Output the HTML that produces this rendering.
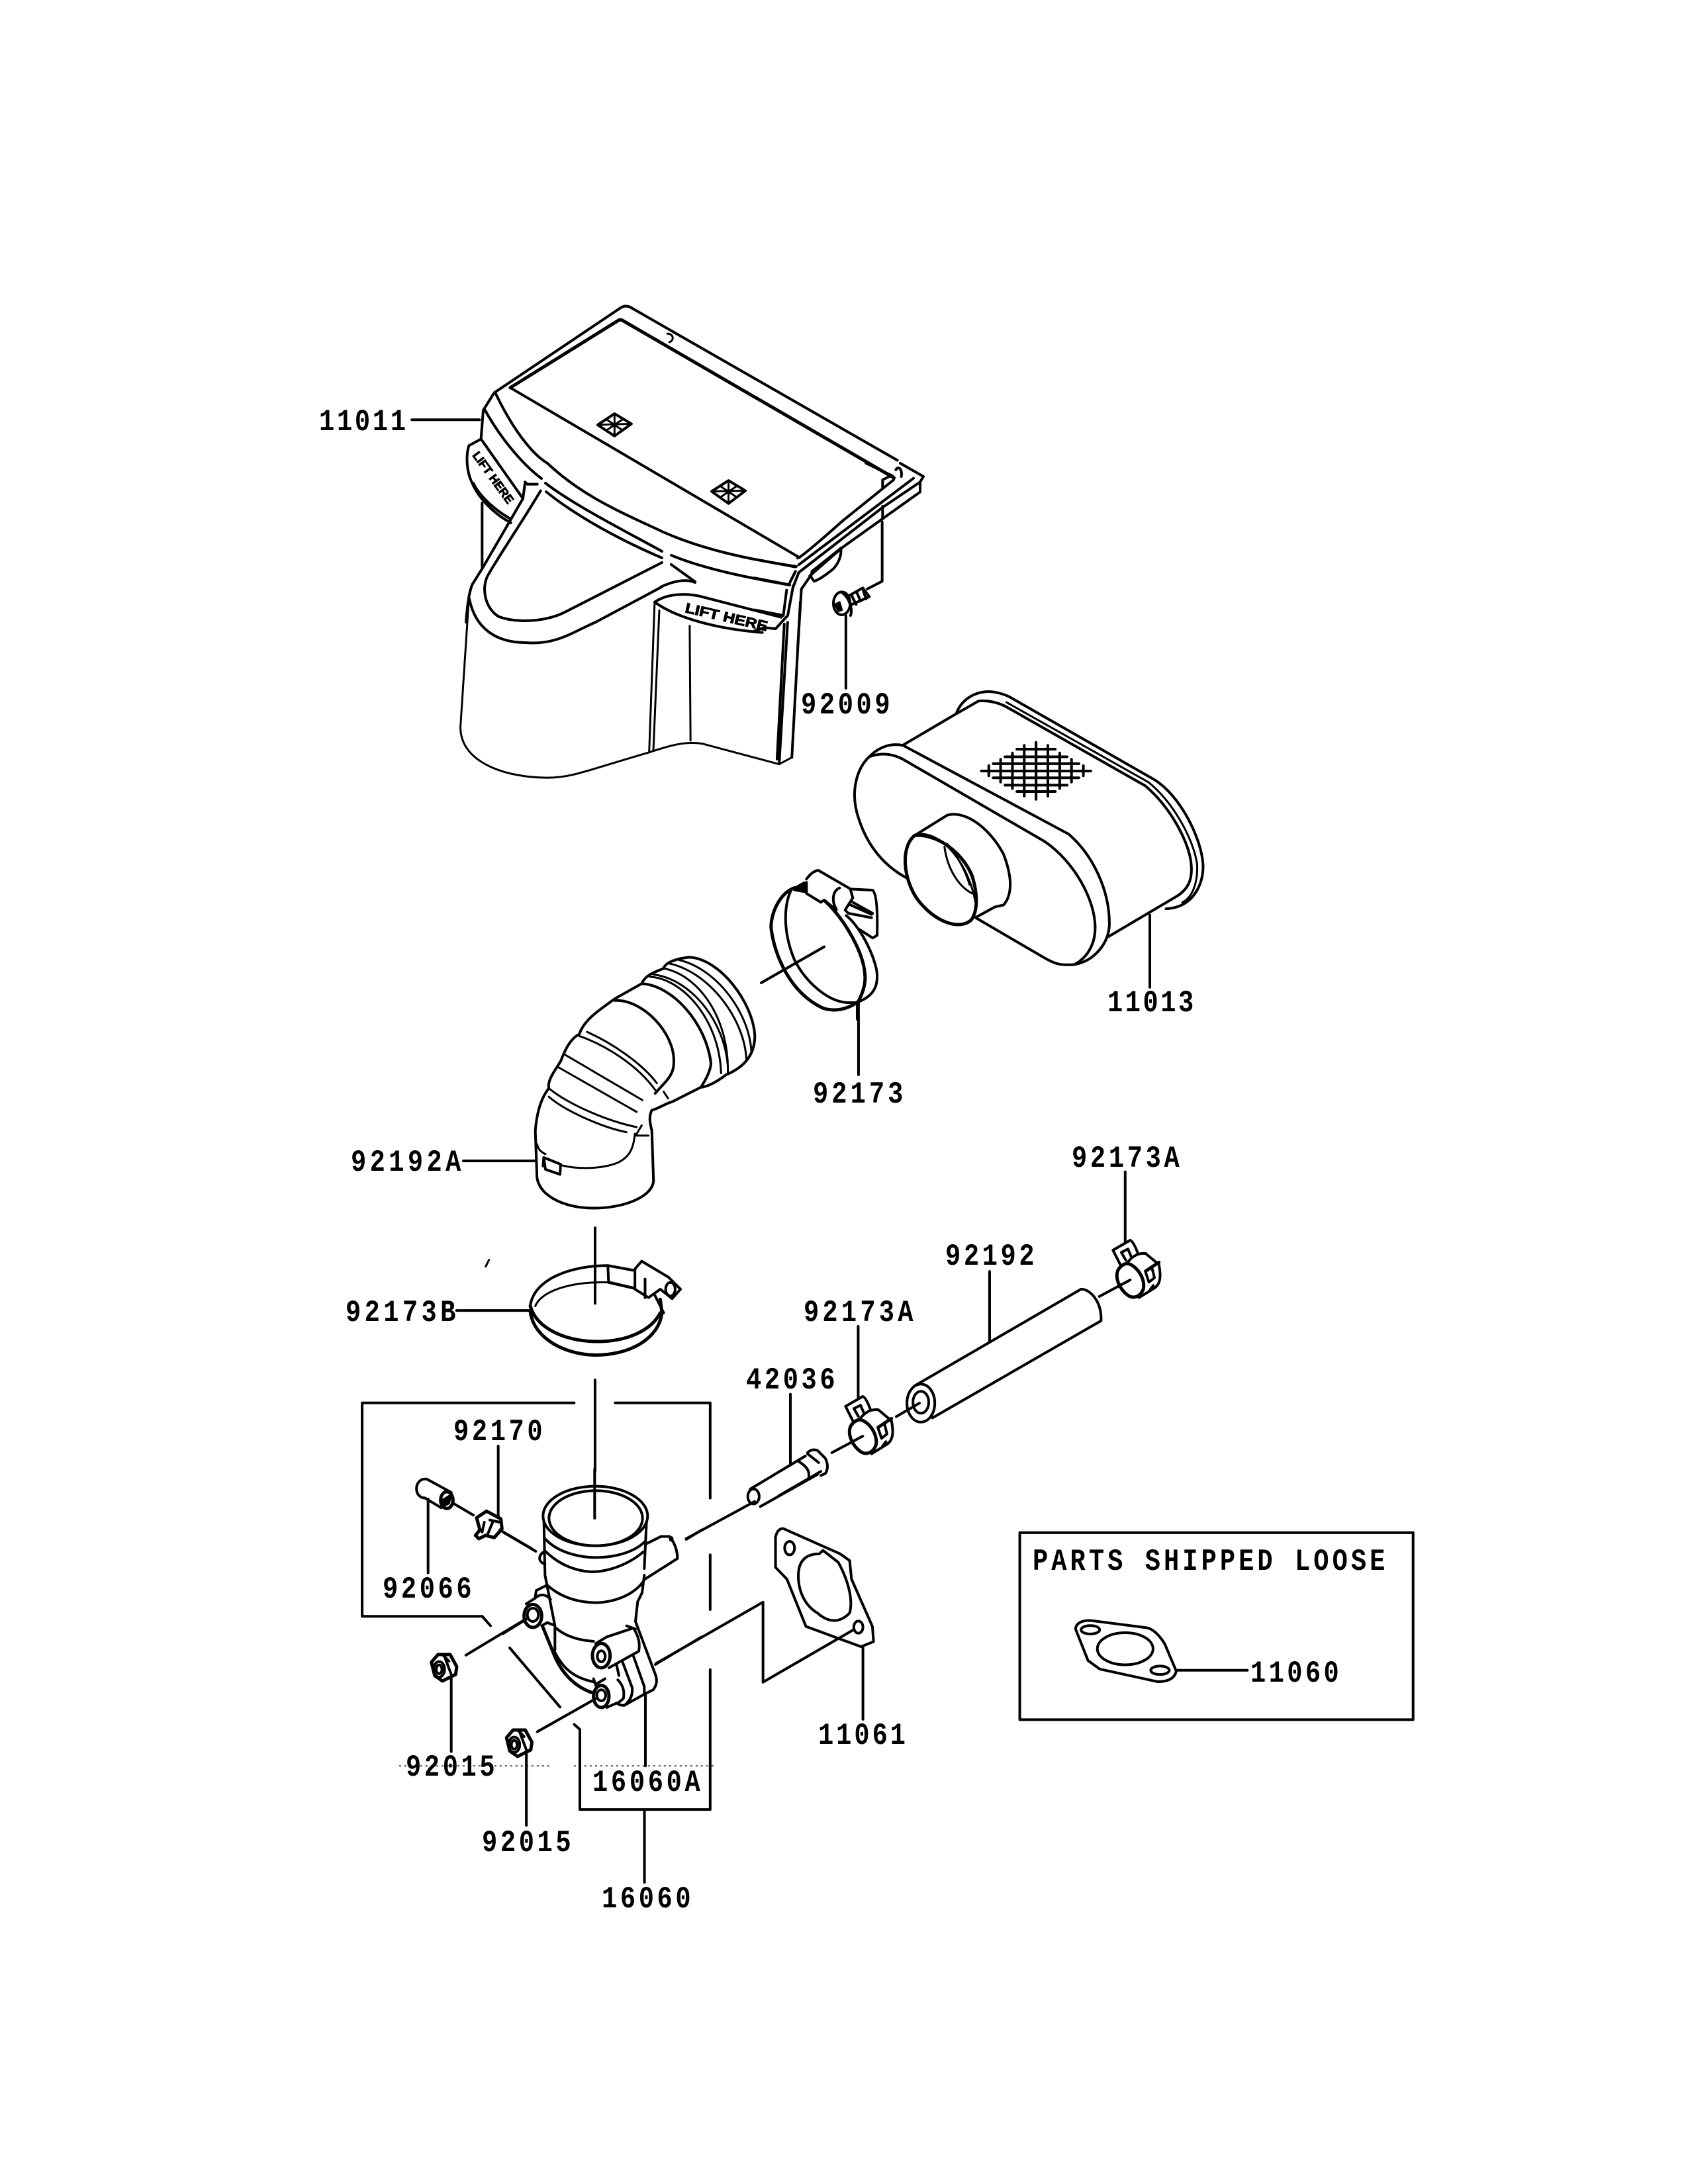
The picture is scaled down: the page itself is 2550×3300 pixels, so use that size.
<!DOCTYPE html>
<html><head><meta charset="utf-8"><style>
html,body{margin:0;padding:0;background:#fff;width:2550px;height:3300px;overflow:hidden}
svg{display:block}
svg *{vector-effect:non-scaling-stroke}
g.p path,g.p ellipse,g.p line,g.p polygon,g.p rect{fill:none;stroke:#000;stroke-width:3;stroke-linejoin:round;stroke-linecap:round}
g.p .w{fill:#fff}
g.p .b{fill:#000}
g.p .t{stroke-width:5}
g.p .m{stroke-width:4}
text.l{font-family:"Liberation Mono",monospace;font-weight:bold;font-size:44px;fill:#000}
text.s{font-family:"Liberation Sans",sans-serif;font-weight:bold;fill:#000;stroke:#000;stroke-width:1px}
</style></head><body>
<svg xmlns="http://www.w3.org/2000/svg" width="2550" height="3300" viewBox="0 0 2550 3300">
<rect width="2550" height="3300" fill="#fff"/>

<!-- Housing upper and body -->
<g class="p" transform="translate(450,420) scale(.6378,.5102)">
<path class="m" d="M440,390L465,340L765,88Q778,78 792,90L1420,540"/>
<path class="t" d="M503,325L760,125Q766,122 772,128L1412,592"/>
<path class="m" d="M503,325L1188,828"/>
<path d="M405,950L385,1330C385,1440 500,1480 590,1480C650,1480 680,1460 832,1405C880,1385 920,1370 960,1380L1140,1440L1170,1420"/>
<path class="m" d="M1100,1050C1000,1040 900,1010 845,960C880,930 930,935 960,945L1145,1005"/>
<path class="m" d="M1190,960L1170,1420M1160,1020L1140,1438M1152,1025L1135,1425"/>
<path d="M845,960L832,1405M856,985L842,1398M928,1030L930,1370"/>
<polygon class="m" points="710,435 750,402 790,432 750,468"/><path d="M730,418L770,452M770,418L730,452M750,402L750,468M710,435L790,432"/>
<polygon class="m" points="980,632 1020,600 1060,630 1020,668"/><path d="M1000,616L1040,650M1040,616L1000,650M1020,600L1020,668M980,632L1060,630"/>
<path d="M875,165C890,165 892,185 880,190"/>
<path class="m" d="M270,420L430,420"/>
<path class="m" d="M1298,1000L1298,1215"/>
</g>

<!-- arcs in real coords -->
<g class="p">
<path class="m" d="M748,593C780,660 810,690 827,700C880,750 940,775 1000,803C1060,830 1130,845 1203,856"/>
<path class="m" d="M733,620C753,657 787,700 818,723M824,730C867,763 940,800 1000,833M1014,839C1062,859 1125,872 1193,884"/>
<path class="m" d="M825,743C867,777 930,813 1000,843"/>
<path class="m" d="M1014,853L1050,879M998,887Q1030,872 1050,880"/>
<path class="m" d="M709,905C718,950 750,971 794,971C840,975 865,955 900,940"/>
</g>

<!-- Housing left detail -->
<g class="p" transform="translate(680,620) scale(.3333)">
<path class="m" d="M150,0L140,130L85,160C70,210 75,280 100,330C130,400 200,470 275,510"/>
<path class="m" d="M140,130L330,400M105,330C130,385 200,450 270,490"/>
<path class="m" d="M145,420V710"/>
<path class="m" d="M330,400L340,325L350,335M355,335H395"/>
<path class="m" d="M330,400L150,710L100,790C85,830 78,880 72,960"/>
<path class="m" d="M410,365C330,500 240,630 170,750C140,810 160,900 220,935C300,965 430,960 520,915L960,690"/>
<path class="m" d="M960,800L660,960"/>
</g>

<!-- Housing right detail + screw -->
<g class="p" transform="translate(1140,700) scale(.3333)">
<path class="m" d="M195,430Q215,425 400,260L630,75Q635,60 610,50L505,0"/>
<path class="m" d="M580,110L580,75L610,60M640,30C650,10 670,25 665,60"/>
<path class="m" d="M200,460L720,68"/>
<path class="m" d="M0,435L185,470M0,520L155,550L185,490"/>
<path class="m" d="M175,560L200,495L580,200L750,85L765,60L660,0"/>
<path class="m" d="M250,510L400,380L750,130V90"/>
<path class="m" d="M580,195V245M578,265V535L510,570"/>
<path class="m" d="M260,490L255,515L270,535Q300,525 355,480C385,450 395,410 390,385M260,490L385,390"/>
<path class="m" d="M250,515L212,570L195,840M175,555L150,690L95,750L45,745L0,760"/>
<path class="m" d="M145,575L130,690L0,665"/>
<ellipse class="m" cx="395" cy="635" rx="38" ry="52"/>
<path class="m" d="M395,585C430,610 445,660 435,690M420,605L490,565L520,605L440,640M440,600L460,640M465,590L480,625M490,570L505,615"/>
<path class="b" d="M365,640L385,630L395,665L380,670Z"/>
</g>
<text class="s" font-size="18" transform="translate(713,688) rotate(54)" textLength="92" lengthAdjust="spacingAndGlyphs">LIFT HERE</text>
<text class="s" font-size="21" transform="translate(1034,925) rotate(13)" textLength="127" lengthAdjust="spacingAndGlyphs">LIFT HERE</text>

<!-- Filter 11013 -->
<g class="p" transform="translate(1150,1000) scale(.4464,.3827)">
<path class="m" d="M478,330L660,205C670,170 700,125 760,118C790,115 830,130 850,145L1330,465C1420,530 1490,700 1495,800C1498,880 1460,970 1370,975"/>
<path class="m" d="M660,205L735,155Q780,150 825,175L1300,490C1390,580 1450,720 1455,800C1460,860 1445,900 1400,930L1175,1085"/>
<path d="M830,160L1310,475C1400,560 1465,710 1475,800C1478,870 1460,930 1425,950"/>
<path class="m" d="M370,370C400,335 440,320 480,330L1040,680C1120,760 1180,900 1178,1040C1175,1110 1130,1180 1060,1195C1010,1200 990,1190 960,1170L725,1010"/>
<path class="m" d="M365,375C400,360 440,360 480,385L960,710C1060,790 1130,940 1130,1050C1130,1120 1100,1170 1060,1195"/>
<path class="m" d="M370,370C320,420 300,520 330,620C360,730 420,810 495,855"/>
<path class="t" d="M520,685C470,730 480,860 530,940C590,1030 670,1060 710,1020C730,990 735,930 715,850C690,770 610,680 520,685Z"/>
<path class="m" d="M520,685L630,605C700,585 780,670 820,760C850,850 850,920 820,960L790,968L725,1010"/>
<path d="M620,730C630,820 670,890 715,915M630,720C660,760 690,820 705,880M530,680C610,670 700,790 725,950"/>
<path class="m" d="M865,345H995M825,375H1035M785,402H1075M745,431H1115M785,458H1075M825,487H1035M865,512H995M770,410V450M810,385V475M850,360V500M890,330V530M930,318V543M970,330V530M1010,360V500M1050,385V475M1090,410V450"/>
<path class="m" d="M1315,1000V1285"/>
</g>

<!-- Clamp 92173 -->
<g class="p" transform="translate(1150,1300) scale(.3333)">
<path class="t" d="M150,125C80,150 40,250 45,310C60,430 130,600 280,670C340,690 400,670 440,640"/>
<path class="t" d="M290,185C380,270 465,420 470,520C475,570 450,620 440,640"/>
<path class="m" d="M135,135C100,210 100,330 150,450C200,550 300,640 390,645L440,645"/>
<path class="m" d="M385,250C460,310 530,470 525,530C525,590 490,620 445,640"/>
<path class="m" d="M205,85Q230,50 258,45L405,130L505,135Q530,160 525,340L505,352L440,310"/>
<path class="m" d="M205,100V150L270,190L285,180L340,225"/>
<path class="b" d="M150,125L195,100L205,145L150,135Z"/>
<path class="m" d="M355,125C320,140 320,190 340,220"/>
<path class="m" d="M405,135L415,170L380,225L395,240L500,260M400,200L500,245M415,190L505,240"/>
<path class="m" d="M435,645V720M0,555L285,392"/>
</g>

<!-- Hose 92192A, clamp 92173B -->
<g class="p" transform="translate(500,1300) scale(.5102,.5102)">
<path class="m" d="M1562,420V635"/>
<path class="m" d="M610,940L605,800C610,740 625,700 645,675C640,650 665,620 680,595C690,570 705,530 735,515C750,470 800,440 840,410L920,365C930,340 960,330 985,320C990,300 1030,290 1060,287C1150,290 1250,420 1255,520C1255,570 1230,610 1170,635C1150,650 1120,670 1095,672L1010,715C990,720 970,735 950,740C940,760 945,780 950,800L955,950C950,1000 860,1030 780,1030C700,1030 620,1000 610,940Z"/>
<path class="m" d="M840,415C920,410 1020,510 1015,600C1015,640 985,660 960,690"/>
<path class="m" d="M920,365C1010,370 1110,480 1125,600C1125,620 1110,650 1095,672"/>
<path d="M945,345C1040,350 1150,470 1155,630M955,338C1060,350 1165,470 1175,610M985,320C1090,340 1180,470 1175,630"/>
<path d="M1000,305C1120,330 1225,470 1230,590M1030,295C1140,320 1240,450 1245,570"/>
<path d="M758,508C830,540 920,600 965,660M735,520C820,550 910,610 960,680M692,575L922,710M672,612L905,745M645,675C700,720 810,770 905,790M645,700C690,740 800,790 875,805"/>
<path d="M985,685L998,705"/>
<path d="M905,810L920,785M900,810C895,860 880,880 850,895C800,915 730,915 682,903M610,840C615,860 625,865 635,870M905,815H940"/>
<path class="m" d="M630,880L680,900L678,930L635,915Z M630,880L628,905"/>
<path class="m" d="M392,890H605"/>
<path class="m" d="M782,1088V1312"/>
<path class="m" d="M590,1320C600,1240 710,1200 820,1200L900,1215"/>
<path d="M605,1320C620,1280 700,1245 830,1250L895,1265"/>
<path class="t" d="M590,1320C610,1390 700,1425 790,1425C880,1425 950,1390 975,1340"/>
<path class="t" d="M590,1335C600,1420 700,1465 785,1465C880,1465 970,1420 980,1340L975,1300"/>
<path class="m" d="M960,1290L985,1340M820,1205L822,1250L900,1268M900,1210L920,1187L1000,1235L1035,1270L1010,1298L975,1270L940,1295L900,1270Z M930,1240V1295"/>
<ellipse class="m" cx="1005" cy="1270" rx="14" ry="20"/>
<path class="m" d="M372,1333H590"/>
<path d="M468,1183L458,1203"/>
</g>

<!-- Manifold brackets and outer parts -->
<g class="p" transform="translate(500,2080) scale(.574,.5102)">
<path class="m" d="M695,10V280"/>
<path class="m" d="M640,78H82V710H398L420,738M748,78H998V360M998,528V690M998,868V1282H655V1045L640,1030M825,1285V1498"/>
<path class="m" d="M355,825L510,720M855,850L1137,668V905L1375,750M935,480L1115,370"/>
<path class="m" d="M1130,385L1280,290"/>
<ellipse class="m" cx="1112" cy="355" rx="15" ry="22"/>
<path class="m" d="M1170,475Q1175,450 1190,450L1340,525L1365,545L1370,600L1425,740L1428,785L1395,800L1250,740L1200,600L1170,565Z"/>
<ellipse class="m" cx="1207" cy="508" rx="13" ry="20"/>
<ellipse class="m" cx="1388" cy="742" rx="12" ry="18"/>
<path class="m" d="M1230,590C1230,545 1250,525 1285,525L1295,515L1335,550C1360,600 1375,660 1365,700C1340,730 1310,730 1280,700C1250,680 1230,640 1230,590Z"/>
<path class="m" d="M1400,800V1015"/>
<path d="M180,1153H580M640,1153H1015" style="stroke-width:1.5;stroke-dasharray:2 6"/>
</g>

<!-- Manifold body -->
<g class="p" transform="translate(760,2220) scale(.3333)">
<path class="m" d="M415,0V222"/>
<ellipse class="m" cx="418" cy="212" rx="237" ry="135"/>
<ellipse class="m" cx="420" cy="222" rx="212" ry="125"/>
<path class="m" d="M190,315C240,370 330,400 420,400C520,400 600,370 640,330"/>
<path class="m" d="M190,370C260,440 340,462 400,465C480,465 570,430 635,375"/>
<path class="m" d="M200,525C260,580 340,605 430,605C510,600 590,570 635,510"/>
<path class="m" d="M240,720C280,755 340,775 410,780"/>
<path class="m" d="M185,240L190,480L235,710V820"/>
<path class="m" d="M650,240L640,450M640,480L630,560L610,600L600,690L690,930Q705,970 680,1000L640,1020L550,1070Q530,1072 515,1060L470,1080"/>
<path class="m" d="M645,340L715,305L755,305Q790,350 790,405L640,500"/>
<ellipse class="b" cx="762" cy="316" rx="6" ry="8"/>
<path class="m" d="M190,372C160,385 155,420 190,430"/>
<path class="m" d="M0,285L148,372M830,318L900,275"/>
<path class="m" d="M105,610L145,585L150,550L200,525M145,585C170,560 200,570 215,590M175,710L200,695L225,705"/>
<ellipse class="t" cx="135" cy="665" rx="40" ry="52"/>
<ellipse class="m" cx="135" cy="660" rx="25" ry="30"/>
<path class="t" d="M180,715L235,850C270,930 330,990 410,1015"/>
<path class="m" d="M235,830C280,920 340,950 415,965"/>
<path class="m" d="M420,790L470,760L590,720Q625,770 615,825L480,900M560,710L600,725"/>
<ellipse class="t" cx="445" cy="845" rx="40" ry="55"/>
<ellipse class="m" cx="445" cy="848" rx="18" ry="25"/>
<path class="m" d="M540,870L585,990Q590,1040 550,1070M590,845L640,985V1020M515,890L525,935M520,955Q555,990 545,1040L520,1060"/>
<ellipse class="t" cx="445" cy="1030" rx="35" ry="50"/>
<ellipse class="m" cx="445" cy="1025" rx="20" ry="25"/>
<path class="m" d="M410,950L420,980M420,975L462,950"/>
<path class="m" d="M0,745L105,680M30,810L258,1078M155,1190L420,1040M690,885L900,760M645,1020V1345"/>
</g>

<!-- plug 92066, clamp 92170 -->
<g class="p" transform="translate(600,2200) scale(.3333)">
<path class="m" d="M135,105L245,165M135,105C100,100 85,130 88,155C90,175 105,190 125,190L200,235"/>
<ellipse class="t" cx="225" cy="200" rx="28" ry="38"/>
<path class="b" d="M205,200L245,175L235,215L215,225Z"/>
<path class="m" d="M255,215L345,268M140,195V530M458,-45V280"/>
<path class="t" d="M360,280L405,250L470,285L475,330L440,370L400,360L370,375L355,360L375,335Z"/>
<path class="m" d="M395,300L385,345M435,295L410,355M420,290L465,300"/>
<path class="m" d="M465,335L610,420"/>
</g>

<!-- Nuts -->
<g id="nut" class="p" transform="translate(600,2440) scale(.3333)">
<path class="t" d="M155,215L185,180L240,180L270,235L265,270L235,285L205,300L170,275Z"/>
<ellipse class="m" cx="190" cy="247" rx="25" ry="35"/>
<ellipse class="m" cx="190" cy="247" rx="13" ry="20"/>
<path class="m" d="M215,190L245,270M205,180L235,210M245,285V620"/>
</g>
<g class="p" transform="translate(713.5,2554) scale(.3333)">
<path class="t" d="M155,215L185,180L240,180L270,235L265,270L235,285L205,300L170,275Z"/>
<ellipse class="m" cx="190" cy="247" rx="25" ry="35"/>
<ellipse class="m" cx="190" cy="247" rx="13" ry="20"/>
<path class="m" d="M215,190L245,270M205,180L235,210M245,285V612"/>
</g>

<!-- Tube 42036 and small clamps -->
<g class="p" transform="translate(1120,2060) scale(.3333)">
<path class="m" d="M40,570L290,420M170,600L360,490M300,405Q320,385 345,395L380,430Q400,470 380,500L360,508M300,410L350,450M260,445C300,470 310,490 305,520"/>
<path class="m" d="M222,140V460"/>
</g>
<g class="p" transform="translate(1120,2060) scale(.3333)">
<path class="m" d="M505,260L472,195L550,150Q565,155 585,210M530,240L510,205L540,190L555,225"/>
<path class="t" d="M495,285C480,320 500,370 540,400C570,420 600,400 610,370C620,320 575,260 535,255Q510,260 495,285Z"/>
<path class="m" d="M535,255Q570,205 620,210L680,260C690,310 690,350 655,370L590,410"/>
<path class="t" d="M620,290L680,250"/>
<path class="m" d="M620,295L635,340L660,320L650,280M640,375L655,355"/>
<path class="m" d="M410,405L550,330"/>
</g>
<g class="p" transform="translate(1524,1824) scale(.3333)">
<path class="m" d="M505,260L472,195L550,150Q565,155 585,210M530,240L510,205L540,190L555,225"/>
<path class="t" d="M495,285C480,320 500,370 540,400C570,420 600,400 610,370C620,320 575,260 535,255Q510,260 495,285Z"/>
<path class="m" d="M535,255Q570,205 620,210L680,260C690,310 690,350 655,370L590,410"/>
<path class="t" d="M620,290L680,250"/>
<path class="m" d="M620,295L635,340L660,320L650,280M640,375L655,355"/>
<path class="m" d="M410,405L550,330"/>
</g>

<!-- Tube 92192, box -->
<g class="p" transform="translate(1100,1680) scale(.7015,.6378)">
<path class="m" d="M400,650L760,420C780,420 805,450 803,495L440,725"/>
<ellipse class="m" cx="415" cy="690" rx="30" ry="45"/>
<ellipse class="m" cx="415" cy="688" rx="17" ry="26"/>
<path class="m" d="M563,378V545M280,508V680M855,142V310"/>
<path class="m" d="M362,722L412,690"/>
<rect class="m" x="628" y="997" width="847" height="443"/>
<path class="m" d="M748,1225Q750,1205 780,1205L900,1222Q920,1225 940,1260L965,1325Q960,1350 925,1350L800,1320L775,1300Z"/>
<ellipse class="m" cx="780" cy="1227" rx="20" ry="10"/>
<ellipse class="m" cx="930" cy="1323" rx="20" ry="10"/>
<ellipse class="m" cx="855" cy="1272" rx="60" ry="38"/>
<path class="m" d="M965,1323H1118"/>
</g>

<!-- Labels -->
<text class="l" transform="translate(482,650) scale(.88,1.05)" textLength="149">11011</text>
<text class="l" transform="translate(1210,1078) scale(.88,1.05)" textLength="153">92009</text>
<text class="l" transform="translate(1673,1528) scale(.88,1.05)" textLength="148">11013</text>
<text class="l" transform="translate(1228,1666) scale(.88,1.05)" textLength="155">92173</text>
<text class="l" transform="translate(530,1769) scale(.88,1.05)" textLength="189">92192A</text>
<text class="l" transform="translate(522,1996) scale(.88,1.05)" textLength="189">92173B</text>
<text class="l" transform="translate(1619,1763) scale(.88,1.05)" textLength="185">92173A</text>
<text class="l" transform="translate(1428,1911) scale(.88,1.05)" textLength="153">92192</text>
<text class="l" transform="translate(1214,1996) scale(.88,1.05)" textLength="188">92173A</text>
<text class="l" transform="translate(1127,2098) scale(.88,1.05)" textLength="153">42036</text>
<text class="l" transform="translate(685,2176) scale(.88,1.05)" textLength="153">92170</text>
<text class="l" transform="translate(578,2414) scale(.88,1.05)" textLength="153">92066</text>
<text class="l" transform="translate(613,2683) scale(.88,1.05)" textLength="153">92015</text>
<text class="l" transform="translate(728,2797) scale(.88,1.05)" textLength="153">92015</text>
<text class="l" transform="translate(895,2706) scale(.88,1.05)" textLength="185">16060A</text>
<text class="l" transform="translate(909,2882) scale(.88,1.05)" textLength="153">16060</text>
<text class="l" transform="translate(1236,2635) scale(.88,1.05)" textLength="150">11061</text>
<text class="l" transform="translate(1889,2541) scale(.88,1.05)" textLength="152">11060</text>
<text class="l" transform="translate(1560,2372) scale(.88,1.05)" textLength="605">PARTS SHIPPED LOOSE</text>
</svg>
</body></html>
